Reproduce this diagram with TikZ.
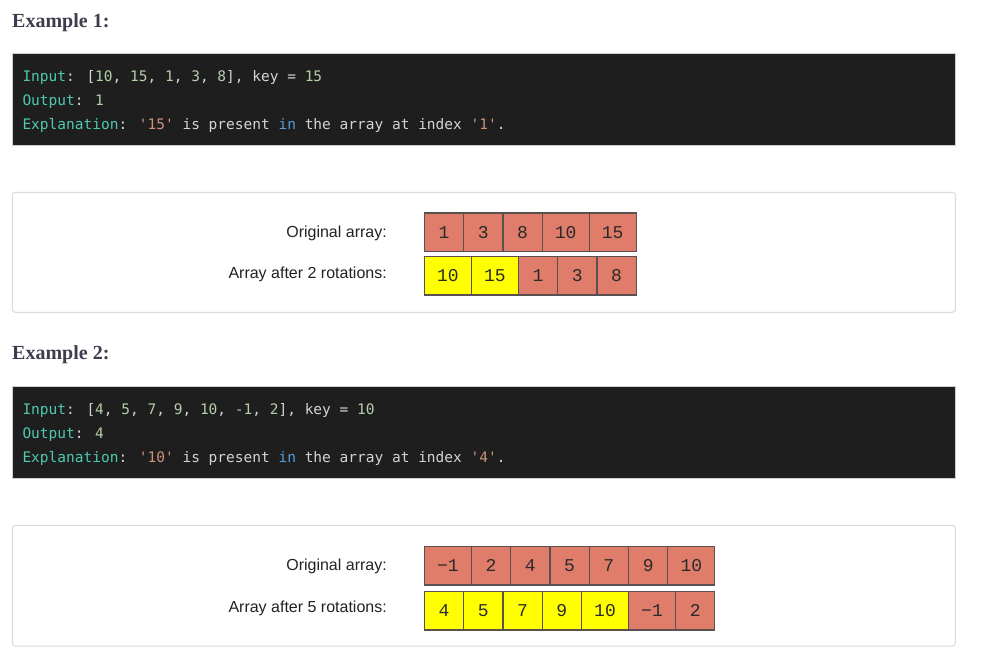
\documentclass[tikz,border=0pt]{standalone}
\usepackage{fontspec}
\setmainfont{Liberation Sans}
\newfontfamily\codefont{DejaVu Sans Mono}[Ligatures=TeXOff]
\newfontfamily\cellfont{Liberation Mono}[Ligatures=TeXOff]
\newfontfamily\headfont{Liberation Serif}
\definecolor{codebg}{HTML}{1E1E1E}
\definecolor{codeborder}{HTML}{CFCFCF}
\definecolor{boxborder}{HTML}{DADADA}
\definecolor{cteal}{HTML}{4EC9B0}
\definecolor{cwhite}{HTML}{D4D4D4}
\definecolor{cgreen}{HTML}{B5CEA8}
\definecolor{corange}{HTML}{CE9178}
\definecolor{cblue}{HTML}{569CD6}
\definecolor{headcol}{HTML}{3D3D4E}
\definecolor{salmon}{HTML}{DF7C6A}
\definecolor{yel}{HTML}{FFFF00}
\definecolor{cellborder}{HTML}{5A5050}
\definecolor{celltext}{HTML}{2A2A2A}
\definecolor{labelcol}{HTML}{222222}
\newcommand\cTeal[1]{\textcolor{cteal}{#1}}
\newcommand\cWh[1]{\textcolor{cwhite}{#1}}
\newcommand\cGr[1]{\textcolor{cgreen}{#1}}
\newcommand\cOr[1]{\textcolor{corange}{#1}}
\newcommand\cBl[1]{\textcolor{cblue}{#1}}
\tikzset{
  codebox/.style={fill=codebg, draw=codeborder, line width=1pt},
  whitebox/.style={fill=white, draw=boxborder, line width=1pt, rounded corners=3pt},
  codeline/.style={anchor=base west, inner sep=0, outer sep=0, text=cwhite, font=\codefont\fontsize{14.5}{24}\selectfont},
  heading/.style={anchor=base west, inner sep=0, text=headcol, font=\headfont\bfseries\fontsize{20}{24}\selectfont},
  rowlabel/.style={anchor=base east, inner sep=0, text=labelcol, font=\fontsize{16}{19}\selectfont},
  cellbase/.style={draw=cellborder, line width=1.3pt, minimum height=38.7pt, inner sep=0, outer sep=0,
    anchor=west, text=celltext, font=\cellfont\fontsize{18}{18}\selectfont},
  one/.style={cellbase, minimum width=39.3pt},
  two/.style={cellbase, minimum width=47pt},
  sal/.style={fill=salmon},
  yl/.style={fill=yel}
}
\begin{document}
\begin{tikzpicture}[x=1pt, y=-1pt]
\useasboundingbox (0,0) rectangle (984,667);
\fill[white] (0,0) rectangle (984,667);

% ---------- Example 1 ----------
\node[heading] (h1) at (12,27.3) {Example 1:};
\path[codebox] (12,53.5) rectangle (955,145.5);
\node[codeline] (e1l1) at (22.5,81) {\cTeal{Input}\cWh{:} \cWh{[}\cGr{10}\cWh{,} \cGr{15}\cWh{,} \cGr{1}\cWh{,} \cGr{3}\cWh{,} \cGr{8}\cWh{],} \cWh{key} \cWh{=} \cGr{15}};
\node[codeline] (e1l2) at (22.5,105) {\cTeal{Output}\cWh{:} \cGr{1}};
\node[codeline] (e1l3) at (22.5,129) {\cTeal{Explanation}\cWh{:} \cOr{'15'} \cWh{is} \cWh{present} \cBl{in} \cWh{the} \cWh{array} \cWh{at} \cWh{index} \cOr{'1'}\cWh{.}};

\path[whitebox] (12.3,192.3) rectangle (955.3,312.3);
\node[rowlabel] (l1a) at (387,237.3) {Original array:};
\node[rowlabel] (l1b) at (387,278.3) {Array after 2 rotations:};

\node[one,sal] (a1) at (424.3,232.3) {1};
\node[one,sal] (a2) at (a1.east) {3};
\node[one,sal] (a3) at (a2.east) {8};
\node[two,sal] (a4) at (a3.east) {10};
\node[two,sal] (a5) at (a4.east) {15};

\node[two,yl] (b1) at (424.3,275.5) {10};
\node[two,yl] (b2) at (b1.east) {15};
\node[one,sal] (b3) at (b2.east) {1};
\node[one,sal] (b4) at (b3.east) {3};
\node[one,sal] (b5) at (b4.east) {8};

% ---------- Example 2 ----------
\node[heading] (h2) at (12,359) {Example 2:};
\path[codebox] (12,386.3) rectangle (955,478.3);
\node[codeline] (e2l1) at (22.5,414.5) {\cTeal{Input}\cWh{:} \cWh{[}\cGr{4}\cWh{,} \cGr{5}\cWh{,} \cGr{7}\cWh{,} \cGr{9}\cWh{,} \cGr{10}\cWh{,} \cGr{-1}\cWh{,} \cGr{2}\cWh{],} \cWh{key} \cWh{=} \cGr{10}};
\node[codeline] (e2l2) at (22.5,438.5) {\cTeal{Output}\cWh{:} \cGr{4}};
\node[codeline] (e2l3) at (22.5,462.5) {\cTeal{Explanation}\cWh{:} \cOr{'10'} \cWh{is} \cWh{present} \cBl{in} \cWh{the} \cWh{array} \cWh{at} \cWh{index} \cOr{'4'}\cWh{.}};

\path[whitebox] (12.3,525.3) rectangle (955.3,646);
\node[rowlabel] (l2a) at (387,570.7) {Original array:};
\node[rowlabel] (l2b) at (387,612.3) {Array after 5 rotations:};

\node[two,sal] (c1) at (424.3,565.5) {−1};
\node[one,sal] (c2) at (c1.east) {2};
\node[one,sal] (c3) at (c2.east) {4};
\node[one,sal] (c4) at (c3.east) {5};
\node[one,sal] (c5) at (c4.east) {7};
\node[one,sal] (c6) at (c5.east) {9};
\node[two,sal] (c7) at (c6.east) {10};

\node[one,yl] (d1) at (424.3,610.5) {4};
\node[one,yl] (d2) at (d1.east) {5};
\node[one,yl] (d3) at (d2.east) {7};
\node[one,yl] (d4) at (d3.east) {9};
\node[two,yl] (d5) at (d4.east) {10};
\node[two,sal] (d6) at (d5.east) {−1};
\node[one,sal] (d7) at (d6.east) {2};
\end{tikzpicture}
\end{document}
